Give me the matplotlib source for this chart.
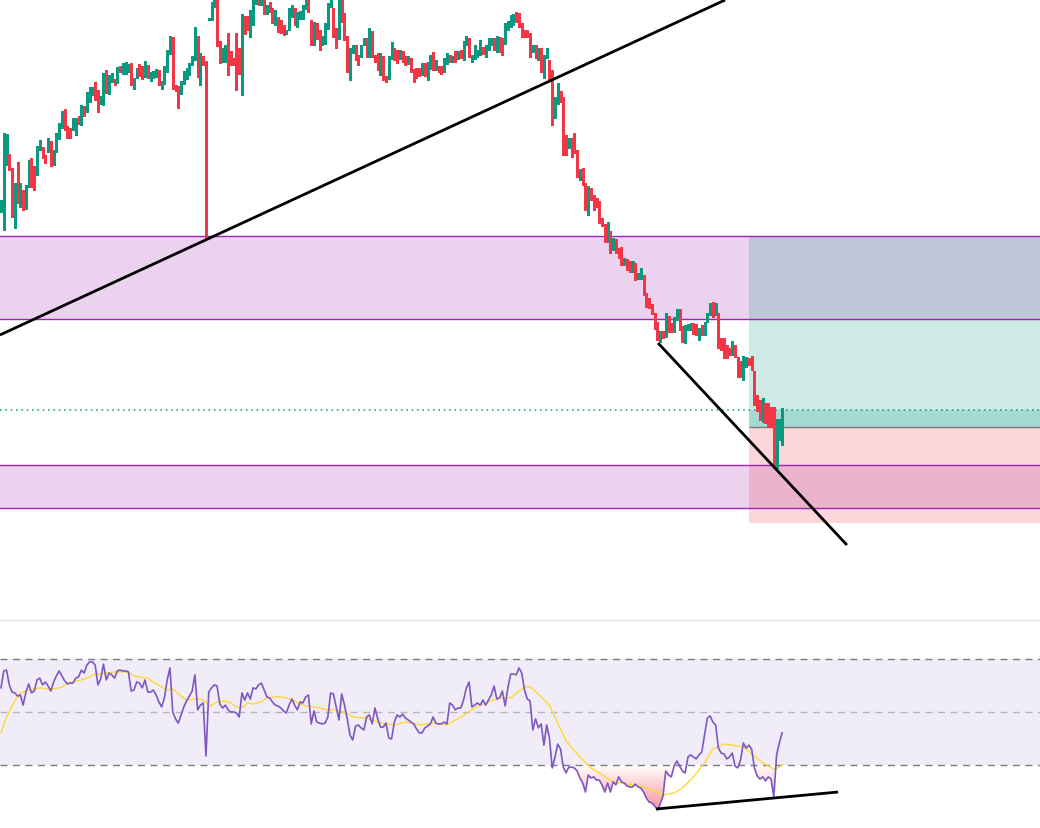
import numpy as np
import matplotlib
matplotlib.use("Agg")
import matplotlib.pyplot as plt
from matplotlib.path import Path

# ---------------- data (price in arbitrary units) ----------------
open_ = [790,795,837,844,830,810,814,803,808,793,
         815,840,826,827,852,851,842,850,857,837,
         850,863,874,889,872,870,872,870,880,877,
         892,890,900,907,909,908,898,897,923,908,
         920,919,919,932,931,928,930,935,913,924,
         934,932,925,933,921,924,925,928,913,918,
         930,948,961,913,912,908,918,923,927,937,
         942,962,920,942,937,981,982,995,998,957,
         940,940,950,947,940,948,950,930,982,982,
         973,977,998,999,997,1000,988,995,990,980,
         980,975,973,967,972,990,990,975,983,983,
         993,997,978,957,975,967,957,958,973,995,
         990,970,963,1000,985,962,928,950,953,943,
         945,957,960,945,967,943,945,940,942,922,
         923,943,948,947,943,947,942,938,940,930,
         930,930,927,935,925,933,935,932,932,932,
         930,938,943,940,947,943,948,942,957,960,
         940,943,945,947,951,945,952,957,960,950,
         961,960,958,973,975,977,983,982,975,968,
         967,965,950,953,945,950,932,943,935,928,
         887,898,907,901,860,855,860,857,848,825,
         830,815,792,807,803,797,797,780,774,760,
         767,752,759,750,751,737,739,737,730,735,
         723,723,723,705,700,694,685,676,662,667,
         665,682,675,670,682,685,672,662,672,672,
         675,674,662,673,667,680,687,692,687,685,
         657,660,653,650,647,653,636,637,622,635,
         640,638,627,599,592,580,587,582,581,580,
         537,567,580]
close = [793,837,845,832,808,815,803,811,793,812,
         838,823,824,852,858,844,840,860,840,847,
         865,875,887,872,868,868,877,880,879,893,
         886,906,911,911,903,890,902,925,909,923,
         925,917,931,930,931,933,934,917,920,930,
         926,923,937,924,926,927,929,917,917,932,
         948,960,913,911,905,917,927,930,935,942,
         963,925,945,937,838,981,997,999,956,944,
         950,953,940,937,937,935,928,984,968,972,
         988,1000,999,997,999,988,992,990,980,982,
         977,973,967,969,990,994,977,986,987,993,
         1000,990,957,976,963,960,960,975,995,1000,
         965,965,1000,980,962,932,950,950,943,938,
         953,960,945,967,945,940,938,945,922,920,
         942,948,943,943,948,942,937,942,930,928,
         928,927,935,926,933,938,932,934,930,928,
         940,945,940,942,940,947,945,957,960,945,
         943,947,948,951,948,953,955,960,952,962,
         950,952,975,977,980,982,980,975,965,965,
         965,947,953,947,950,930,943,947,928,887,
         897,907,900,853,853,860,855,850,825,829,
         817,792,807,802,795,795,779,776,760,767,
         749,760,749,744,737,740,732,731,737,725,
         725,728,707,695,694,688,673,662,667,664,
         685,670,670,681,685,672,663,673,674,675,
         668,668,670,667,676,683,694,685,687,662,
         655,655,647,647,652,643,633,623,642,641,
         637,632,597,591,584,587,580,581,580,533,
         570,577,590]
high = [800,867,866,846,832,817,838,817,810,815,
        840,842,834,854,860,853,845,862,859,850,
        867,877,889,891,874,872,882,882,884,895,
        894,908,913,913,918,910,904,927,930,925,
        927,921,933,934,937,938,936,937,922,932,
        936,934,939,935,928,929,931,930,919,934,
        950,964,963,915,914,919,929,932,937,944,
        973,964,947,944,939,982,998,1002,1000,959,
        952,955,967,949,942,967,952,986,984,984,
        990,1002,1001,1002,1002,1003,995,998,992,990,
        983,980,975,970,992,995,992,988,989,995,
        1003,1000,980,978,977,970,964,977,997,1003,
        992,972,1003,1003,987,964,952,955,955,945,
        955,962,962,972,969,945,947,947,944,924,
        944,958,952,950,950,949,944,944,942,931,
        932,932,937,937,938,945,948,940,934,934,
        942,947,945,944,949,949,950,959,964,962,
        945,955,950,960,953,955,962,962,962,964,
        963,962,977,979,985,986,988,987,977,970,
        970,967,955,955,952,952,945,952,940,930,
        903,917,909,903,865,862,862,867,850,831,
        832,817,814,812,805,802,799,782,776,778,
        769,762,761,752,753,742,741,739,739,737,
        727,732,725,707,702,696,687,678,669,669,
        687,684,677,683,691,691,674,675,676,677,
        677,676,672,675,678,687,697,698,697,687,
        662,662,655,652,659,655,643,639,644,643,
        642,644,629,605,600,602,597,597,593,593,
        581,581,592]
low = [788,770,835,830,783,772,797,793,790,791,
       813,813,810,825,850,842,837,848,834,835,
       848,861,872,870,862,862,870,865,876,875,
       884,888,898,905,900,888,896,895,907,906,
       918,915,917,928,926,926,928,915,911,922,
       924,921,923,922,919,922,923,915,911,916,
       928,946,911,909,892,906,916,921,925,935,
       940,923,915,935,762,980,980,993,954,937,
       938,938,925,935,935,910,926,905,966,970,
       963,975,996,995,995,986,986,988,977,975,
       968,967,965,966,970,983,975,973,981,981,
       991,988,955,955,961,950,955,956,971,993,
       963,952,961,978,960,928,920,947,940,935,
       943,955,943,943,943,938,930,925,920,918,
       921,941,940,937,941,938,935,936,928,918,
       922,924,925,924,920,931,930,930,928,926,
       928,936,938,938,938,941,942,940,955,943,
       938,941,943,945,946,943,950,955,950,948,
       948,945,956,970,973,975,978,973,963,963,
       963,943,948,942,940,928,922,942,920,875,
       882,896,898,845,845,852,843,847,823,820,
       815,790,785,800,790,793,777,774,758,758,
       747,750,747,742,735,735,730,728,728,720,
       721,721,705,693,692,686,671,660,658,662,
       663,668,668,668,680,670,658,657,670,670,
       666,665,660,665,665,678,685,683,685,652,
       650,642,642,645,645,643,623,623,620,633,
       635,630,595,589,580,578,577,573,573,532,
       532,560,555]

rsi = [59.1,65.5,65.8,60.2,57.5,57.2,56.0,56.4,52.6,57.5,
       60.6,57.2,57.9,62.1,62.8,60.2,61.3,59.8,57.9,61.3,
       63.6,65.5,63.6,61.7,60.6,60.9,60.9,62.8,63.2,65.8,
       64.7,67.7,68.9,68.9,67.7,60.2,62.5,68.1,62.1,64.7,
       64.0,62.8,65.5,65.8,65.5,65.5,65.1,57.9,58.3,61.3,
       60.9,59.1,62.1,57.5,57.5,58.3,56.4,53.8,51.9,55.3,
       62.1,66.6,50.0,47.4,45.8,48.9,51.9,54.2,56.0,57.9,
       64.0,50.8,52.6,53.4,33.4,57.5,59.1,60.2,59.8,53.0,
       51.5,52.6,50.8,50.0,50.0,49.6,48.1,57.2,54.5,57.2,
       54.9,59.1,58.7,60.2,60.9,58.3,55.7,55.3,53.8,52.6,
       52.3,51.5,50.4,49.6,52.6,54.9,52.6,50.8,53.8,53.4,
       55.7,56.4,45.5,50.4,46.2,45.8,45.5,45.8,48.1,57.2,
       56.8,51.9,47.0,56.8,52.6,47.4,41.3,39.4,44.7,45.1,
       44.0,43.2,48.1,48.9,45.5,51.5,47.4,44.3,44.3,45.8,
       40.2,39.8,46.2,48.9,48.1,49.2,47.7,47.0,46.2,45.5,
       43.6,42.1,42.1,44.0,44.7,45.5,48.1,45.8,45.5,45.5,
       46.2,45.5,53.4,52.6,50.8,51.5,51.5,54.5,59.1,61.3,
       51.9,52.6,53.4,52.6,54.5,52.6,54.5,56.4,59.8,54.9,
       55.3,57.9,52.3,59.1,64.3,64.3,64.0,66.6,64.7,58.3,
       54.9,54.2,43.2,47.4,44.0,45.5,37.5,45.1,40.2,28.9,
       33.0,37.9,36.0,29.2,27.0,29.2,29.2,28.9,27.7,25.1,
       23.2,19.8,26.2,25.1,25.5,24.3,24.3,22.5,19.8,23.2,
       19.8,23.6,22.5,25.5,23.6,23.2,22.1,21.7,21.7,22.8,
       21.7,21.3,19.8,17.5,16.0,15.7,14.5,13.0,15.3,18.3,
       27.7,26.2,25.5,29.6,31.5,29.6,27.7,27.0,33.0,33.8,
       33.0,32.3,33.8,34.9,41.3,47.7,48.5,46.2,45.1,36.4,
       34.5,34.2,32.3,33.0,34.5,29.6,28.9,31.9,38.3,36.4,
       37.5,36.0,28.9,25.8,24.7,25.5,24.0,25.5,24.7,17.9,
       33.8,38.3,42.1]

rsi_ma_idx = [0,2,5,7,10,12,14,17,19,22,24,26,29,31,34,36,38,41,43,46,
              48,50,53,55,58,60,62,65,67,70,72,74,75,78,81,83,85,87,89,91,
              94,96,99,101,103,106,108,110,113,115,118,120,122,125,127,132,137,142,146,151,
              156,161,166,171,175,180,184,187,190,192,195,198,201,204,209,213,216,221,226,231,
              236,239,243,246,250,254,257,261,264,268,271,275,279,281,282]
rsi_ma = [42.1,48.1,54.2,57.2,58.3,58.7,59.1,58.7,58.7,59.4,60.9,61.3,62.1,62.8,64.3,64.3,64.7,65.1,65.1,65.1,
          63.6,63.2,62.8,61.3,59.4,58.3,58.7,56.0,54.5,54.9,54.9,53.8,51.9,53.8,54.2,53.4,51.9,51.5,53.4,53.0,
          53.8,55.3,55.7,55.7,55.3,54.2,53.0,52.3,51.9,51.5,50.8,50.8,50.4,49.6,48.1,47.7,45.8,45.1,46.2,45.1,
          45.8,45.1,48.1,51.5,53.4,55.3,55.3,57.9,59.8,58.7,55.7,52.6,45.8,39.1,33.0,28.9,27.0,23.6,22.8,22.1,
          20.2,18.7,19.4,21.3,25.5,30.8,36.0,37.9,37.5,36.8,34.2,30.8,28.5,29.2,30.0]

# levels
zone1 = (681, 764)
zone2 = (492, 535)
pos_start = 270
pos_target = 764
pos_entry = 573
pos_stop = 477
last_price = 590
trend1_x, trend1_y = [-0.4, 261.4], [665, 1000]
trend2_x, trend2_y = [237.2, 305.4], [657, 455]
rsi_trend_x, rsi_trend_y = [236.5, 302.2], [13.4, 19.8]
rsi_levels = [70, 50, 30]

# ---------------- styling ----------------
UP, DOWN = "#089981", "#f23645"
PURPLE = "#9c27b0"
N = len(close)
x = np.arange(N)
o = np.array(open_, float); c = np.array(close, float)
h = np.array(high, float); l = np.array(low, float)
XMIN, XMAX = -0.36, 375.1

fig = plt.figure(figsize=(10.4, 8.29), dpi=100)
ax = fig.add_axes([0, 209/829, 1, 620/829])
ax2 = fig.add_axes([0, 0, 1, 209/829])

# zones
for lo_, hi_ in (zone1, zone2):
    ax.axhspan(lo_, hi_, color=PURPLE, alpha=0.2, lw=0, zorder=0)
    ax.axhline(lo_, color=PURPLE, lw=1, zorder=1)
    ax.axhline(hi_, color=PURPLE, lw=1, zorder=1)

# position tool
ax.fill_between([pos_start, XMAX], pos_entry, pos_target, color=UP, alpha=0.2, lw=0, zorder=0.5)
ax.fill_between([pos_start, XMAX], pos_stop, pos_entry, color=DOWN, alpha=0.2, lw=0, zorder=0.5)
ax.fill_between([pos_start, XMAX], pos_entry, last_price, color=UP, alpha=0.2, lw=0, zorder=0.6)
ax.hlines(pos_entry, pos_start, XMAX, color="#787b86", lw=1, zorder=1)
ax.axhline(last_price, color=UP, lw=1.1, ls=(0, (1, 2.5)), zorder=1.2)

# candles
col = np.where(c >= o, UP, DOWN)
ax.vlines(x, np.minimum(l, np.minimum(o, c)), np.maximum(h, np.maximum(o, c)),
          colors=col, lw=1, zorder=3, antialiased=False)
body_lo = np.minimum(o, c)
body_h = np.maximum(np.abs(c - o), 1.0)
ax.bar(x, body_h, bottom=body_lo, width=0.66, color=col, lw=0, zorder=3.1, antialiased=False)

# trend lines
ax.plot(trend1_x, trend1_y, color="black", lw=2, zorder=4, solid_capstyle="butt")
ax.plot(trend2_x, trend2_y, color="black", lw=2, zorder=4, solid_capstyle="butt")

ax.set_xlim(XMIN, XMAX)
ax.set_ylim(381, 1001)
ax.axis("off")

# ---------------- RSI pane ----------------
r = np.array(rsi, float)
ax2.axhspan(30, 70, color="#7e57c2", alpha=0.1, lw=0, zorder=0)
for lv in rsi_levels:
    ax2.axhline(lv, color="#787b86", lw=1, ls=(0, (5, 4)),
                alpha=0.5 if lv == 50 else 1.0, zorder=1)

poly = ax2.fill_between(x, r, 30, where=r < 30, interpolate=True, color="none", lw=0)
paths = poly.get_paths()
if paths:
    clip = Path.make_compound_path(*paths)
    vals = np.linspace(6.2, 30, 256)
    img = np.zeros((256, 1, 4))
    img[..., 0] = 242 / 255; img[..., 1] = 54 / 255; img[..., 2] = 69 / 255
    img[:, 0, 3] = np.clip((30 - vals) / 16, 0, 1) * 0.5
    im = ax2.imshow(img, extent=[x[0], x[-1], 6.2, 30], origin="lower",
                    aspect="auto", zorder=1.5, interpolation="bilinear")
    im.set_clip_path(clip, transform=ax2.transData)

ax2.plot(rsi_ma_idx, rsi_ma, color="#fdd835", lw=1, zorder=2)
ax2.plot(x, r, color="#7e57c2", lw=1.2, zorder=3)
ax2.plot(rsi_trend_x, rsi_trend_y, color="black", lw=2, zorder=4, solid_capstyle="butt")

ax2.set_xlim(XMIN, XMAX)
ax2.set_ylim(6.23, 85.08)
ax2.axis("off")

# pane separator
fig.add_artist(plt.Line2D([0, 1], [208.3/829, 208.3/829], color="#e0e3eb", lw=1))

fig.savefig("out.png", dpi=100)
